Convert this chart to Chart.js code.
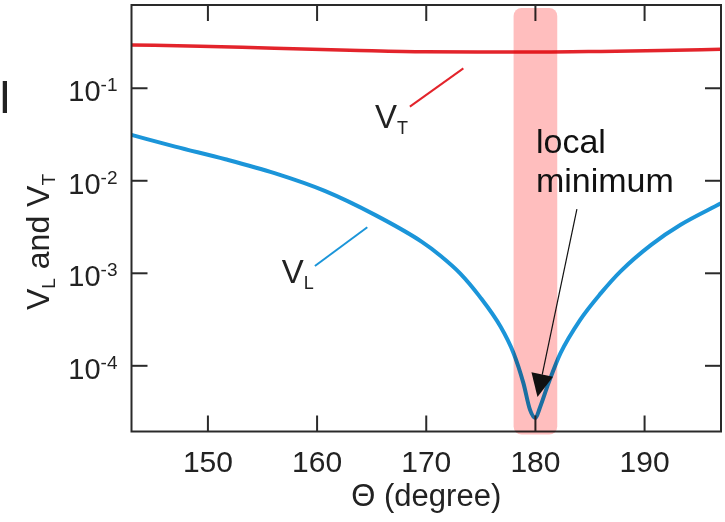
<!DOCTYPE html>
<html lang="en">
<head>
  <meta charset="UTF-8" />
  <title>V_L and V_T vs Theta</title>
  <script src="https://cdn.jsdelivr.net/npm/chart.js"></script>
  <style>
    body {
      margin: 0;
      background: #fff;
    }
    .wrap {
      width: 725px;
      height: 522px;
      position: relative;
    }
  </style>
</head>
<body>
  <div class="wrap"><canvas id="chart"></canvas></div>

  <script>
    // values
    const thetaT = [143, 149.3, 156.1, 163, 169.9, 176.8, 180, 186, 191.5, 197];
    const vT = [0.294, 0.285, 0.270, 0.258, 0.248, 0.247, 0.246, 0.250, 0.256, 0.264];

    const thetaL = [143, 147, 151.6, 156.1, 160.7, 165.3, 169.6, 171.3, 173.1, 174.9, 176.8, 178, 178.9, 179.5,
                    180, 180.4, 181.2, 182.3, 184.1, 186, 187.8, 190.6, 193.3, 197];
    const vL = [0.0313, 0.0234, 0.0171, 0.0121, 0.00778, 0.00428, 0.00219, 0.00155, 0.00100, 5.6e-4, 2.66e-4, 1.37e-4, 6.5e-5, 3.36e-5,
                2.73e-5, 3.5e-5, 6.5e-5, 1.37e-4, 3.14e-4, 6.1e-4, 1.05e-3, 2.03e-3, 3.34e-3, 5.7e-3];

    const xTicks = [150, 160, 170, 180, 190];
    const yTicks = [1e-1, 1e-2, 1e-3, 1e-4];
    const yTickExp = ["-1", "-2", "-3", "-4"];

    const band = [178, 182];          // highlighted region, degrees
    const xRange = [143, 197];
    const yRange = [1.95e-5, 0.794];

    const FONT = "'Liberation Sans', Arial, sans-serif";
    const INK = "#222";

    function toPts(xs, ys) { return xs.map((v, i) => ({ x: v, y: ys[i] })); }

    function line(ctx, x0, y0, x1, y1) {
      ctx.beginPath(); ctx.moveTo(x0, y0); ctx.lineTo(x1, y1); ctx.stroke();
    }

    // text with a subscript: parts = [[text, size, dy], ...]
    function richText(ctx, parts, x, y) {
      let cx = x;
      parts.forEach(([t, size, dy]) => {
        ctx.font = `${size}px ${FONT}`;
        ctx.fillText(t, cx, y + dy);
        cx += ctx.measureText(t).width;
      });
      return cx - x;
    }
    function richWidth(ctx, parts) {
      let w = 0;
      parts.forEach(([t, size]) => { ctx.font = `${size}px ${FONT}`; w += ctx.measureText(t).width; });
      return w;
    }

    const decor = {
      id: 'decor',
      afterDatasetsDraw(chart) {
        const { ctx, chartArea: a, scales: { x, y } } = chart;
        ctx.save();

        // frame + inward ticks on all four sides
        ctx.strokeStyle = '#2a2a2a';
        ctx.lineWidth = 2;
        ctx.strokeRect(a.left, a.top, a.right - a.left, a.bottom - a.top);
        const tl = 16;
        xTicks.forEach(v => {
          const px = x.getPixelForValue(v);
          line(ctx, px, a.bottom, px, a.bottom - tl);
          line(ctx, px, a.top, px, a.top + tl);
        });
        yTicks.forEach(v => {
          const py = y.getPixelForValue(v);
          line(ctx, a.left, py, a.left + tl, py);
          line(ctx, a.right, py, a.right - tl, py);
        });

        // tick labels
        ctx.fillStyle = INK;
        ctx.textBaseline = 'alphabetic';
        ctx.textAlign = 'center';
        ctx.font = `30px ${FONT}`;
        xTicks.forEach(v => ctx.fillText(String(v), x.getPixelForValue(v), a.bottom + 40));

        ctx.textAlign = 'left';
        yTicks.forEach((v, i) => {
          const py = y.getPixelForValue(v);
          const parts = [["10", 29, 0], [yTickExp[i], 19, -10]];
          const w = richWidth(ctx, parts);
          richText(ctx, parts, a.left - 14 - w, py + 13);
        });

        // axis titles
        ctx.textAlign = 'center';
        ctx.font = `31px ${FONT}`;
        ctx.fillText("\u0398 (degree)", (a.left + a.right) / 2, a.bottom + 74);

        ctx.textAlign = 'left';
        const yt = [["V", 32, 0], ["L", 19, 6], [" and V", 32, 0], ["T", 19, 6]];
        const ytw = richWidth(ctx, yt);
        ctx.save();
        ctx.translate(49, 242);
        ctx.rotate(-Math.PI / 2);
        richText(ctx, yt, -ytw / 2, 0);
        ctx.restore();

        // panel letter
        ctx.font = `46px ${FONT}`;
        ctx.fillText("I", -1.5, 113);

        // series labels with leader lines
        ctx.lineWidth = 2;
        ctx.strokeStyle = '#e3242b';
        line(ctx, x.getPixelForValue(168.5), y.getPixelForValue(0.0633), x.getPixelForValue(173.4), y.getPixelForValue(0.164));
        ctx.strokeStyle = '#1b95d9';
        line(ctx, x.getPixelForValue(159.8), y.getPixelForValue(1.2e-3), x.getPixelForValue(164.6), y.getPixelForValue(3.15e-3));
        richText(ctx, [["V", 33, 0], ["T", 18, 6]], x.getPixelForValue(165.3), y.getPixelForValue(0.0373));
        richText(ctx, [["V", 33, 0], ["L", 18, 6]], x.getPixelForValue(156.76), y.getPixelForValue(7.9e-4));

        // highlighted band, multiplied over the curves
        const b0 = x.getPixelForValue(band[0]), b1 = x.getPixelForValue(band[1]);
        ctx.globalCompositeOperation = 'multiply';
        ctx.fillStyle = '#ffbebe';
        ctx.beginPath();
        ctx.roundRect(b0, a.top + 3, b1 - b0, a.bottom - a.top + 0, 8);
        ctx.fill();
        ctx.globalCompositeOperation = 'source-over';

        // local minimum note + arrow
        ctx.fillStyle = '#111';
        ctx.font = `34px ${FONT}`;
        const tx = x.getPixelForValue(180.05), ty = y.getPixelForValue(0.02);
        ctx.fillText("local", tx, ty);
        ctx.fillText("minimum", tx, ty + 39);

        const sx = x.getPixelForValue(183.8), sy = y.getPixelForValue(4.93e-3);
        const ex = x.getPixelForValue(180.19), ey = y.getPixelForValue(4.6e-5);
        const ang = Math.atan2(ey - sy, ex - sx);
        const hl = 23, hw = 11;
        const bx = ex - hl * Math.cos(ang), by = ey - hl * Math.sin(ang);
        ctx.strokeStyle = '#111';
        ctx.lineWidth = 1.2;
        line(ctx, sx, sy, bx, by);
        ctx.beginPath();
        ctx.moveTo(ex, ey);
        ctx.lineTo(bx + hw * Math.sin(ang), by - hw * Math.cos(ang));
        ctx.lineTo(bx - hw * Math.sin(ang), by + hw * Math.cos(ang));
        ctx.closePath();
        ctx.fill();

        ctx.restore();
      }
    };

    new Chart(document.getElementById('chart'), {
      type: 'line',
      data: {
        datasets: [
          { label: 'V_T', data: toPts(thetaT, vT), borderColor: '#e3242b', borderWidth: 3.5,
            pointRadius: 0, cubicInterpolationMode: 'monotone' },
          { label: 'V_L', data: toPts(thetaL, vL), borderColor: '#1b95d9', borderWidth: 4,
            pointRadius: 0, cubicInterpolationMode: 'monotone' }
        ]
      },
      options: {
        responsive: true,
        maintainAspectRatio: false,
        animation: false,
        layout: { padding: { top: 5, right: 4, left: 0, bottom: 0 } },
        plugins: { legend: { display: false }, tooltip: { enabled: false } },
        scales: {
          x: {
            type: 'linear', min: xRange[0], max: xRange[1],
            grid: { display: false }, border: { display: false },
            ticks: { display: false },
            afterFit: s => { s.height = 90.5; }
          },
          y: {
            type: 'logarithmic', min: yRange[0], max: yRange[1],
            grid: { display: false }, border: { display: false },
            ticks: { display: false },
            afterFit: s => { s.width = 131.5; }
          }
        }
      },
      plugins: [decor]
    });
  </script>
</body>
</html>
